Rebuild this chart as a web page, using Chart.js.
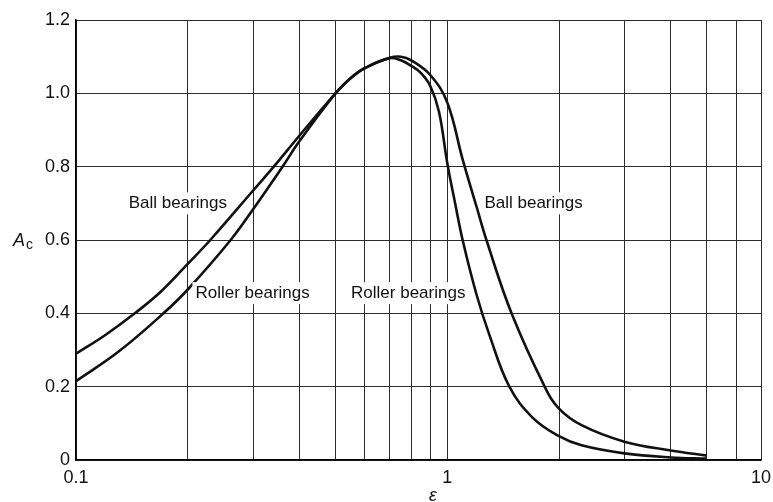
<!DOCTYPE html>
<html>
<head>
<meta charset="utf-8">
<script src="https://cdn.jsdelivr.net/npm/chart.js@4.4.0/dist/chart.umd.min.js"></script>
<style>
  html, body { margin: 0; padding: 0; background: #fff; }
</style>
</head>
<body>
<canvas id="chart" width="773" height="502"></canvas>
<script>
// Curve readings (epsilon, A_c)
const ballX   = [0.1, 0.12, 0.144, 0.17, 0.2, 0.23, 0.3, 0.341, 0.4, 0.5, 0.55, 0.6, 0.7, 0.75, 0.8, 0.9, 1.0, 1.1, 1.2, 1.275, 1.49, 1.83, 2.0, 2.3, 3.0, 4.0, 5.0];
const ballY   = [0.29, 0.341, 0.40, 0.461, 0.535, 0.60, 0.735, 0.80, 0.885, 1.0, 1.042, 1.069, 1.097, 1.10, 1.09, 1.05, 0.975, 0.82, 0.69, 0.60, 0.40, 0.20, 0.14, 0.095, 0.05, 0.026, 0.012];
const rollerX = [0.1, 0.13, 0.172, 0.2, 0.261, 0.3, 0.36, 0.4, 0.5, 0.55, 0.6, 0.7, 0.75, 0.8, 0.85, 0.9, 0.95, 1.0, 1.05, 1.1, 1.2, 1.3, 1.47, 1.7, 2.0, 2.3, 3.0, 4.0, 5.0];
const rollerY = [0.215, 0.295, 0.40, 0.465, 0.60, 0.684, 0.80, 0.87, 1.0, 1.042, 1.069, 1.096, 1.09, 1.075, 1.055, 1.02, 0.95, 0.81, 0.70, 0.60, 0.45, 0.34, 0.20, 0.115, 0.065, 0.04, 0.018, 0.007, 0.004];

// vertical grid lines; the printed frame stops at 7 but its right edge is labelled "10"
const xGridValues = [0.1, 0.2, 0.3, 0.4, 0.5, 0.6, 0.7, 0.8, 0.9, 1, 2, 3, 4, 5, 6, 7];
const xTickLabels = { 0.1: '0.1', 1: '1', 7: '10' };
const yTicks = [0, 0.2, 0.4, 0.6, 0.8, 1.0, 1.2];

// curve labels placed in data coordinates
const curveLabels = [
  { text: 'Ball bearings',   x: 0.188, y: 0.70 },
  { text: 'Roller bearings', x: 0.299, y: 0.455 },
  { text: 'Roller bearings', x: 0.785, y: 0.455 },
  { text: 'Ball bearings',   x: 1.708, y: 0.70 }
];

const FONT = "'Liberation Sans', Arial, Helvetica, sans-serif";

const toPoints = (xs, ys) => xs.map((x, i) => ({ x: x, y: ys[i] }));

const labelPlugin = {
  id: 'labels',
  afterDatasetsDraw(chart) {
    const ctx = chart.ctx;
    const xs = chart.scales.x, ys = chart.scales.y;
    ctx.save();
    ctx.font = '17px ' + FONT;
    ctx.textAlign = 'center';
    ctx.textBaseline = 'middle';
    curveLabels.forEach(l => {
      const px = xs.getPixelForValue(l.x);
      const py = ys.getPixelForValue(l.y);
      const w = ctx.measureText(l.text).width;
      ctx.fillStyle = '#fff';
      ctx.fillRect(px - w / 2 - 3, py - 11, w + 6, 22);
      ctx.fillStyle = '#111';
      ctx.fillText(l.text, px, py);
    });

    // y axis title: A with subscript c
    ctx.textAlign = 'left';
    ctx.textBaseline = 'alphabetic';
    ctx.font = 'italic 18px ' + FONT;
    ctx.fillText('A', 13, 246);
    ctx.font = '14px ' + FONT;
    ctx.fillText('c', 26, 249);

    // x axis title
    ctx.textAlign = 'center';
    ctx.font = 'italic 18px ' + FONT;
    ctx.fillText('\u03b5', 433, 501);
    ctx.restore();
  }
};

const curveStyle = {
  borderColor: '#111',
  borderWidth: 2.6,
  pointRadius: 0,
  fill: false,
  tension: 0.4
};

new Chart(document.getElementById('chart').getContext('2d'), {
  type: 'line',
  data: {
    datasets: [
      Object.assign({ label: 'Ball bearings', data: toPoints(ballX, ballY) }, curveStyle),
      Object.assign({ label: 'Roller bearings', data: toPoints(rollerX, rollerY) }, curveStyle)
    ]
  },
  options: {
    responsive: false,
    animation: false,
    devicePixelRatio: 1,
    layout: { padding: { top: 20, right: 12, left: 0, bottom: 0 } },
    plugins: {
      legend: { display: false },
      tooltip: { enabled: false }
    },
    scales: {
      x: {
        type: 'logarithmic',
        min: 0.1,
        max: 7,
        afterBuildTicks: s => { s.ticks = xGridValues.map(v => ({ value: v })); },
        afterFit: s => { s.height = 42; s.paddingRight = 0; s.paddingLeft = 0; },
        grid: { color: '#2c2c2c', lineWidth: 1, drawTicks: false },
        border: { color: '#000', width: 1.5 },
        ticks: {
          autoSkip: false,
          maxRotation: 0,
          padding: 7,
          color: '#111',
          font: { family: FONT, size: 18 },
          callback: v => {
            const k = Object.keys(xTickLabels).find(t => Math.abs(t - v) < 1e-9);
            return k !== undefined ? xTickLabels[k] : '';
          }
        }
      },
      y: {
        type: 'linear',
        min: 0,
        max: 1.2,
        afterBuildTicks: s => { s.ticks = yTicks.map(v => ({ value: v })); },
        afterFit: s => { s.width = 76; },
        grid: { color: '#2c2c2c', lineWidth: 1, drawTicks: false },
        border: { color: '#000', width: 1.5 },
        ticks: {
          padding: 6,
          color: '#111',
          font: { family: FONT, size: 18 },
          callback: v => Math.abs(v) < 1e-9 ? '0' : v.toFixed(1)
        }
      }
    }
  },
  plugins: [labelPlugin]
});
</script>
</body>
</html>
